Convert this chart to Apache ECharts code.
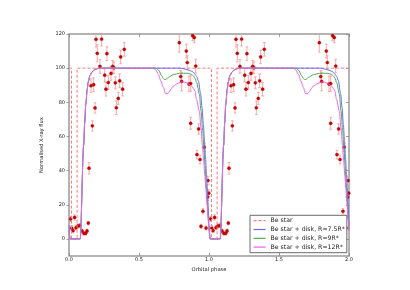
<!DOCTYPE html>
<html><head><meta charset="utf-8">
<script src="https://cdn.jsdelivr.net/npm/echarts@6/dist/echarts.min.js"></script>
<style>html,body{margin:0;padding:0;background:#fff}#c{width:410px;height:290px}</style>
</head><body><div id="c"></div>
<script>
// Observed data (one orbital cycle, phase 0..1), repeated for phase 1..2
var obsPhase = [0.012,0.019,0.029,0.040,0.050,0.064,0.079,0.093,0.107,0.119,0.129,0.138,0.143,
  0.157,0.176,0.167,0.186,0.193,0.202,0.221,0.233,0.255,0.264,0.271,0.281,0.300,0.312,0.321,0.331,0.338,0.352,0.362,0.369,0.383,0.395,
  0.788,0.798,0.805,0.838,0.845,0.857,0.869,0.869,0.883,0.895,0.905,0.914,0.926,0.936,0.943,0.957,0.966,0.979,0.990,0.993,0.998];
var obsFlux = [11.7,6.4,4.9,12.6,6.6,7.6,7.8,4.7,3.3,3.3,4.7,9.3,41.4,
  89.7,90.3,66.2,76.7,116.9,108.7,101.0,117.0,95.9,87.7,108.5,91.6,96.9,101.0,100.2,91.4,76.8,82.3,92.6,106.6,87.7,111.0,
  114.9,95.1,92.2,110.0,103.3,90.7,91.0,67.7,119.0,117.9,101.2,49.4,64.4,46.5,7.4,16.2,53.7,6.4,24.5,34.2,26.8];
var obsErr = [1.5,1.5,1.2,1.5,1.2,1.2,1.2,1.0,1.0,1.0,1.0,1.0,3.4,
  4,4,3,3,4.5,5,4,4,4,4,4,4,4,3.5,3.5,3.5,4,3.5,4,4,4,4,
  5.5,3.5,5.5,4,4,4.5,4.5,3.5,3,3,4,2.5,3,2.5,1.2,1.5,2.5,1.2,2,2.5,2];

// Be star model (one cycle)
var beStarPhase = [0,0.018,0.018,0.058,0.058,1];
var beStarFlux  = [100,100,0,0,100,100];

// Be star + disk, R=7.5R*
var r75Phase = [0,0.008,0.08,0.105,0.112,0.12,0.13,0.1375,0.15,0.165,0.18,0.2,0.23,0.8,0.83,0.864,0.885,0.9,0.912,0.924,0.94,0.95,0.96,0.968,0.975,0.982,0.988,0.995,1.0];
var r75Flux  = [8,0,0,55,68,79,87.5,92,95.8,97.8,99,99.7,100,100,99.4,98.6,97.8,96.5,95,92.6,85,77,67,57,48,38,30,18,8];

// Be star + disk, R=9R*
var r9Phase = [0,0.008,0.08,0.105,0.112,0.12,0.13,0.1375,0.15,0.165,0.18,0.2,0.23,0.62,0.64,0.662,0.675,0.686,0.698,0.71,0.745,0.79,0.85,0.875,0.888,0.9,0.912,0.931,0.943,0.955,0.964,0.972,0.98,0.988,0.995,1.0];
var r9Flux  = [5,0,0,55,68,79,87.5,92,95.8,97.8,99,99.7,100,100,98.8,95.5,93.8,93.2,93.8,94.6,96.2,97,97,96.3,95.5,94,91.6,84.8,75,63.3,53,43,32,22,12,5];

// Be star + disk, R=12R*
var r12Phase = [0,0.008,0.08,0.105,0.112,0.12,0.13,0.1375,0.15,0.165,0.18,0.2,0.23,0.6,0.62,0.638,0.656,0.674,0.69,0.705,0.717,0.73,0.745,0.78,0.81,0.84,0.86,0.876,0.89,0.9,0.91,0.931,0.943,0.953,0.962,0.97,0.978,0.986,0.993,1.0];
var r12Flux  = [5,0,0,55,68,79,87.5,92,95.8,97.8,99,99.7,100,100,99,96.5,92.5,88.7,85,85.2,86.3,88,89.5,91.2,92,91.5,90.5,89.5,88,86.5,82,75,65,55,46,37,29,20,12,5];

var xTicks = [0,0.5,1,1.5,2];
var yTicks = [0,20,40,60,80,100,120];

function twoCycles(ph, fl){
  var out = [];
  for (var k=0;k<2;k++){
    for (var i=0;i<ph.length;i++){
      if (k===1 && i===0) continue;
      out.push([ph[i]+k, fl[i]]);
    }
  }
  return out;
}
var obsData = [];
for (var k=0;k<2;k++) for (var i=0;i<obsPhase.length;i++) obsData.push([obsPhase[i]+k, obsFlux[i], obsErr[i]]);

var FONT = 'DejaVu Sans';
var chart = echarts.init(document.getElementById('c'), null, {renderer:'canvas'});
var lineCommon = {type:'line', symbol:'none', smooth:0.3, smoothMonotone:'x', clip:true, animation:false};
chart.setOption({
  animation:false,
  backgroundColor:'#fff',
  grid:{left:69,right:61,top:34,bottom:34,show:true,borderColor:'#9a9a9a',borderWidth:1.5,backgroundColor:'transparent'},
  xAxis:[
    {type:'value',min:0,max:2,interval:0.5,position:'bottom',
     name:'Orbital phase',nameLocation:'middle',nameGap:7,
     nameTextStyle:{fontFamily:FONT,fontSize:5.2,color:'#222'},
     axisLine:{show:false,onZero:false},splitLine:{show:false},
     axisTick:{show:true,inside:true,length:3,lineStyle:{color:'#888',width:0.8}},
     axisLabel:{fontFamily:FONT,fontSize:5,color:'#222',margin:1.5,customValues:xTicks,formatter:function(v){return v.toFixed(1);}}},
    {type:'value',min:0,max:2,interval:0.5,position:'top',
     axisLine:{show:false,onZero:false},splitLine:{show:false},axisLabel:{show:false},
     axisTick:{show:true,inside:true,length:3,lineStyle:{color:'#888',width:0.8}}}
  ],
  yAxis:[
    {type:'value',min:-10,max:120,position:'left',
     name:'Normalised X-ray flux',nameLocation:'middle',nameGap:13.5,nameRotate:90,
     nameTextStyle:{fontFamily:FONT,fontSize:5.2,color:'#222'},
     axisLine:{show:false,onZero:false},splitLine:{show:false},
     axisTick:{show:true,inside:false,length:2.5,customValues:yTicks,lineStyle:{color:'#888',width:0.8}},
     axisLabel:{fontFamily:FONT,fontSize:5,color:'#222',margin:4,customValues:yTicks}},
    {type:'value',min:-10,max:120,position:'right',
     axisLine:{show:false,onZero:false},splitLine:{show:false},axisLabel:{show:false},
     axisTick:{show:true,inside:true,length:3,customValues:yTicks,lineStyle:{color:'#888',width:0.8}}}
  ],
  legend:{
    show:true,orient:'vertical',left:250,top:215.3,
    data:['Be star','Be star + disk, R=7.5R*','Be star + disk, R=9R*','Be star + disk, R=12R*'],
    itemWidth:12,itemHeight:6,itemGap:2.8,
    padding:[2.4,2,2.6,3],
    itemStyle:{opacity:0},
    lineStyle:{width:1.2},
    backgroundColor:'#fff',borderColor:'#444',borderWidth:0.8,borderRadius:0,
    textStyle:{fontFamily:FONT,fontSize:6.2,lineHeight:6,color:'#222'},
    selectedMode:false
  },
  series:[
    Object.assign({},lineCommon,{name:'Be star',smooth:false,data:twoCycles(beStarPhase,beStarFlux),
      lineStyle:{color:'#ff7b7b',width:1,type:[3,2]},itemStyle:{color:'#ff7b7b'}}),
    Object.assign({},lineCommon,{name:'Be star + disk, R=7.5R*',data:twoCycles(r75Phase,r75Flux),
      lineStyle:{color:'#6a6aff',width:1},itemStyle:{color:'#6a6aff'}}),
    Object.assign({},lineCommon,{name:'Be star + disk, R=9R*',data:twoCycles(r9Phase,r9Flux),
      lineStyle:{color:'#4fae4f',width:1},itemStyle:{color:'#4fae4f'}}),
    Object.assign({},lineCommon,{name:'Be star + disk, R=12R*',data:twoCycles(r12Phase,r12Flux),
      lineStyle:{color:'#f060f0',width:1},itemStyle:{color:'#f060f0'}}),
    {type:'custom',name:'errors',data:obsData,clip:true,encode:{x:0,y:1},
     renderItem:function(params,api){
       var x=api.value(0),y=api.value(1),e=api.value(2);
       var t=api.coord([x,y+e]),b=api.coord([x,y-e]);
       var cw=1.3, st={stroke:'#f5a0a0',lineWidth:0.9};
       return {type:'group',children:[
         {type:'line',shape:{x1:t[0],y1:t[1],x2:b[0],y2:b[1]},style:st},
         {type:'line',shape:{x1:t[0]-cw,y1:t[1],x2:t[0]+cw,y2:t[1]},style:st},
         {type:'line',shape:{x1:b[0]-cw,y1:b[1],x2:b[0]+cw,y2:b[1]},style:st}
       ]};
     }},
    {type:'scatter',name:'data',data:obsData.map(function(d){return [d[0],d[1]];}),
     symbol:'circle',symbolSize:3.2,clip:true,
     itemStyle:{color:'#cc0000',borderColor:'#990000',borderWidth:0.3,opacity:1}}
  ]
});
</script></body></html>
